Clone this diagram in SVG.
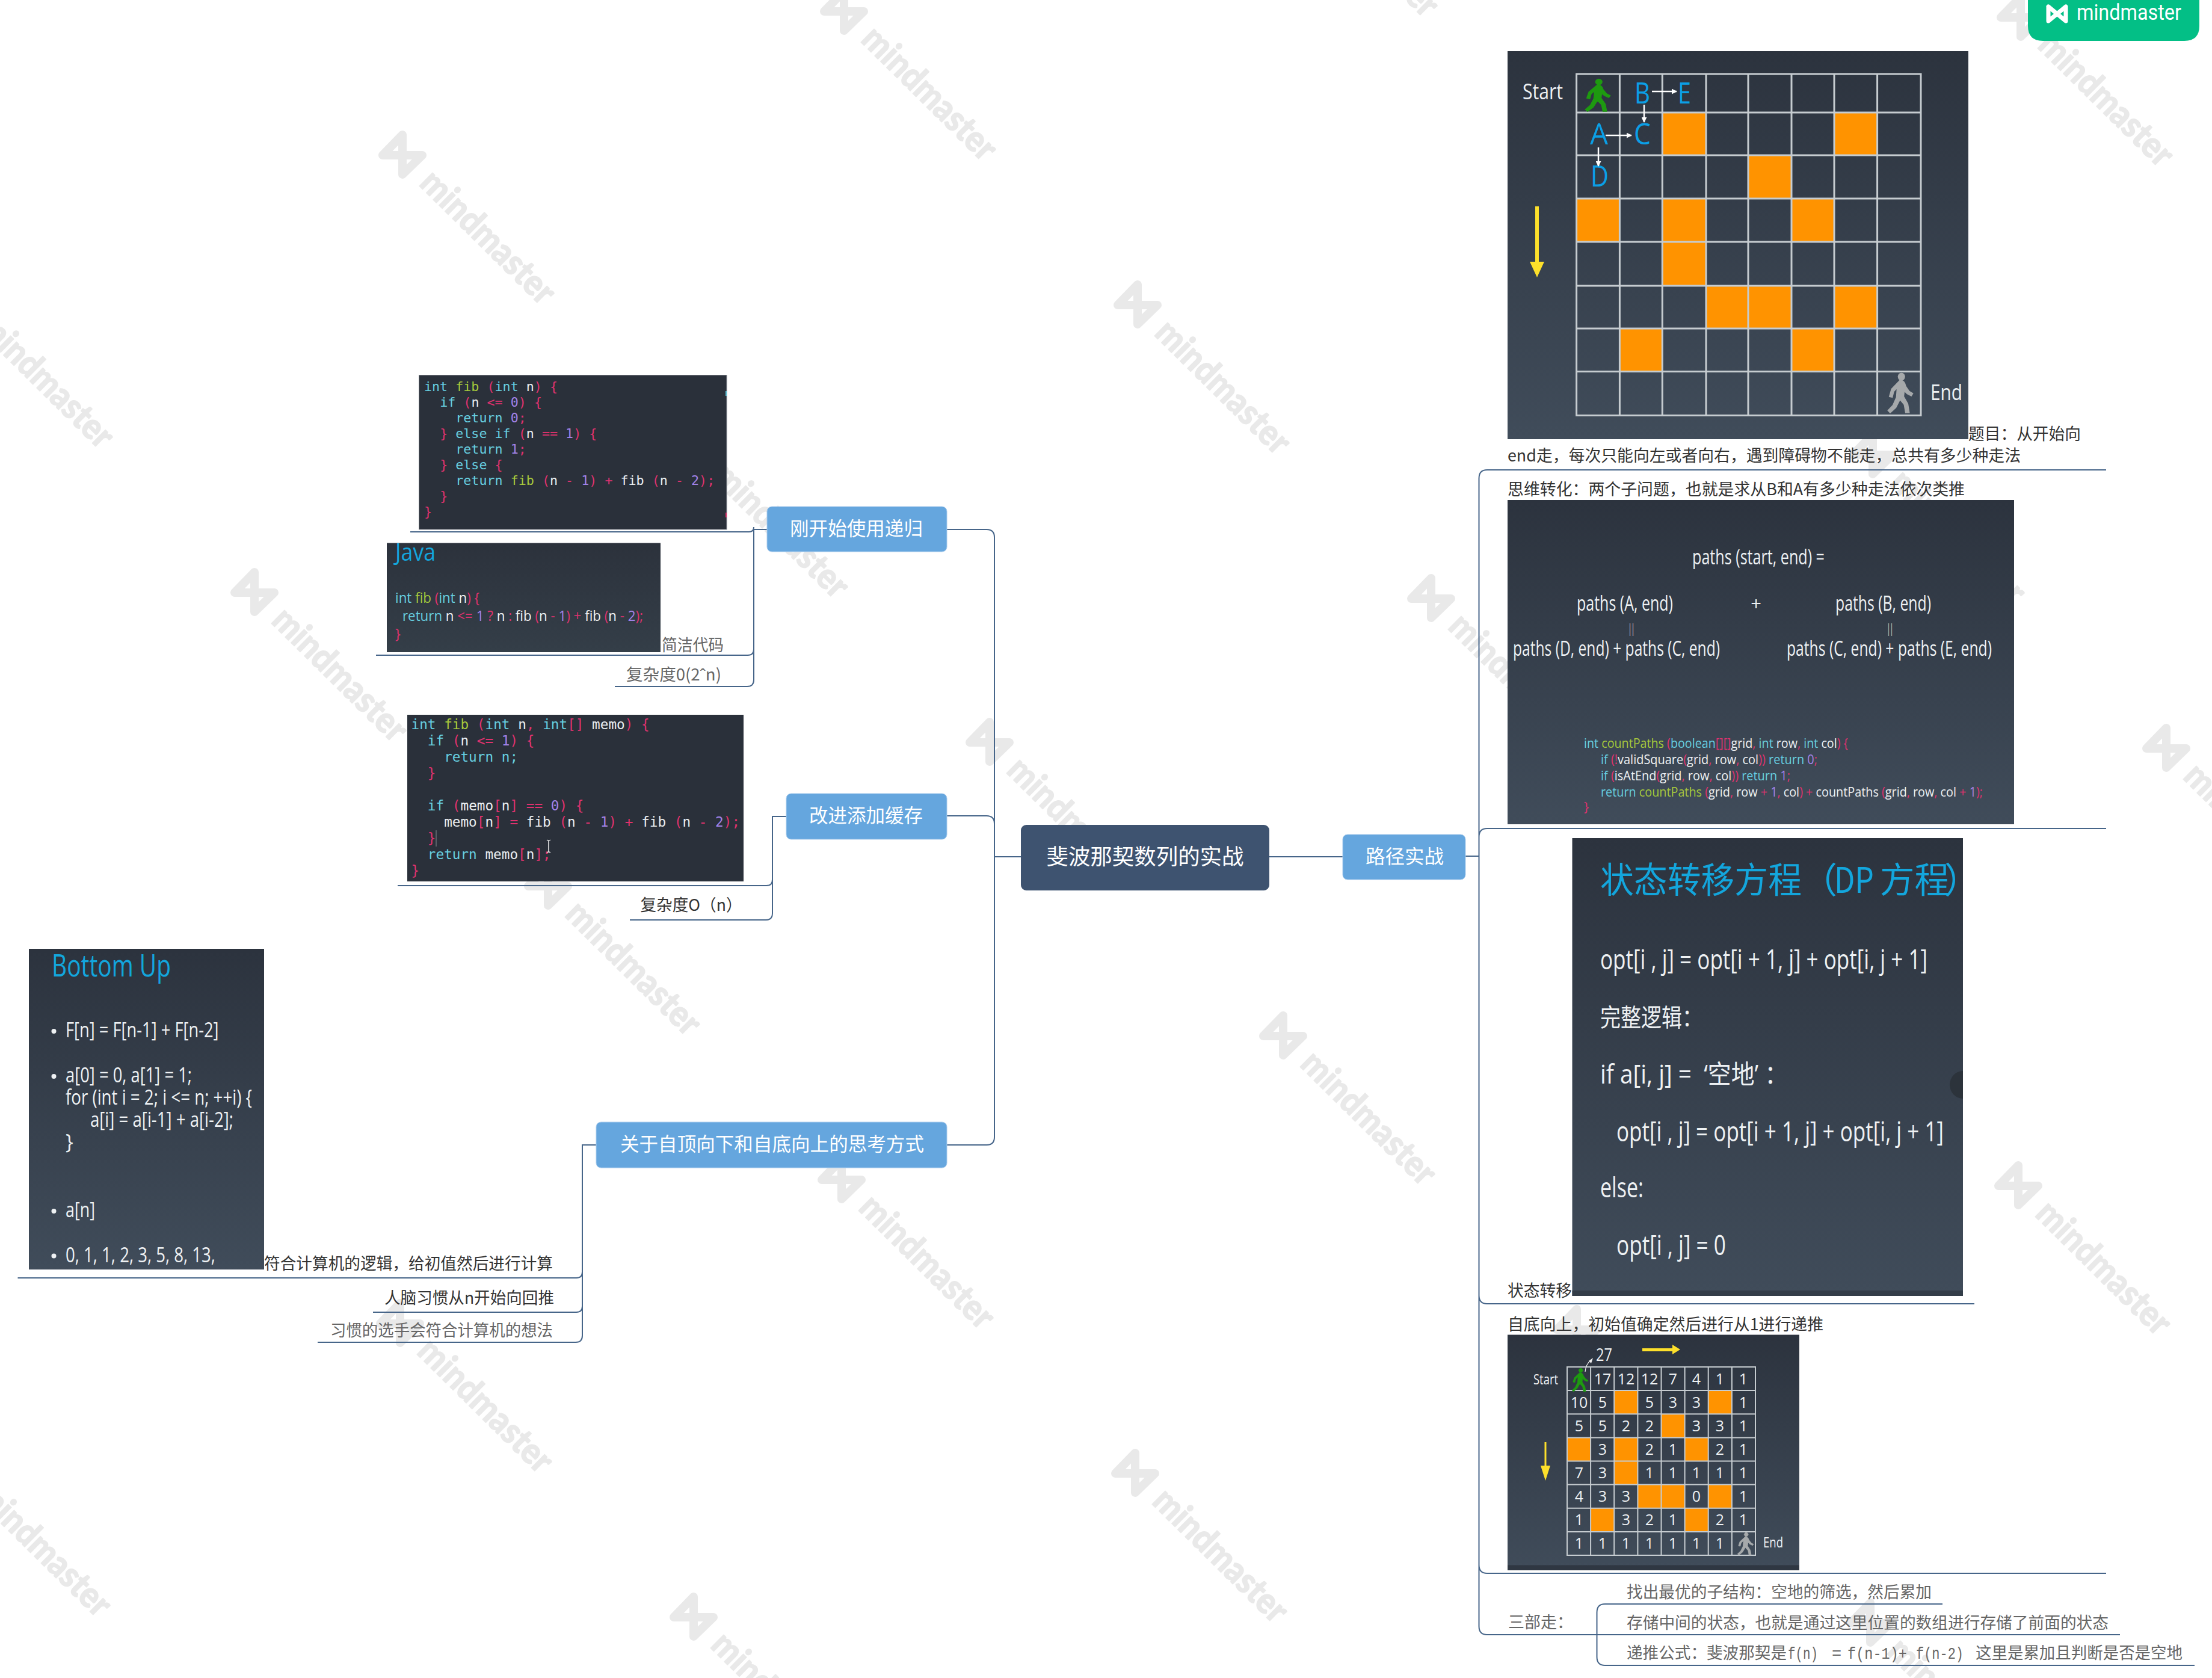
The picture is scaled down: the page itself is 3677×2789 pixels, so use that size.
<svg xmlns="http://www.w3.org/2000/svg" width="3677" height="2789" viewBox="0 0 3677 2789">
<style>
text{white-space:pre}
.c{font-family:"Noto Sans CJK SC","Liberation Sans",sans-serif;font-size:27px;fill:#333}
.g{fill:#666}
.lb{font-family:"Noto Sans CJK SC","Liberation Sans",sans-serif;fill:#fff;font-size:32px}
.o{font-family:"Open Sans","Noto Sans CJK SC",sans-serif;fill:#eef1f3}
.m{font-family:"DejaVu Sans Mono",monospace;fill:#e9edf0}
.k{fill:#67cfe0}.f{fill:#a6c93c}.p{fill:#e0326e}.n{fill:#a283ea}
.b{fill:#13a6dd}
.wt{font-family:Lato,"Open Sans",sans-serif;font-weight:900;font-size:60px;fill:#e9e9e9;stroke:#e9e9e9;stroke-width:1.5;stroke-linejoin:round}
.box{fill:#65a6de;stroke:#a9cbec;stroke-width:1}
.con{fill:none;stroke:#466589;stroke-width:2}
.or{fill:#ff9300}
.gr{fill:none;stroke:#c6ccd0;stroke-width:3}
.gs{fill:none;stroke:#c6ccd0;stroke-width:2}
.ar{fill:none;stroke:#fff;stroke-width:2.5}
.num{font-family:"Open Sans",sans-serif;fill:#eef1f3;font-size:25px;text-anchor:middle}
</style>
<defs>
<linearGradient id="gd" x1="0" y1="0" x2="0" y2="1"><stop offset="0" stop-color="#2c333e"/><stop offset="1" stop-color="#404c5a"/></linearGradient>
<linearGradient id="gj" x1="0" y1="0" x2="0" y2="1"><stop offset="0" stop-color="#2c323c"/><stop offset="1" stop-color="#343e48"/></linearGradient>
<path id="wl" d="M0 -33L-33 1L33 1L0 33Z" fill="none" stroke="#e9e9e9" stroke-width="14" stroke-linejoin="round"/>
<path id="walker" d="M20 10C24 10 27 13 28 18L33 25L38 28L36 31L30 28L26 24L25 32L31 42L33 54L28 54L26 43L20 36L14 47L6 54L3 51L10 44L15 33L16 20L11 25L9 33L5 32L8 22ZM22 0.5a4.5 4.5 0 1 0 .01 0Z"/>
<marker id="wa" viewBox="0 0 10 10" refX="9" refY="5" markerWidth="9" markerHeight="9" markerUnits="userSpaceOnUse" orient="auto"><path d="M0 0L10 5L0 10Z" fill="#fff"/></marker>
</defs>
<rect width="3677" height="2789" fill="#fff"/>
<g id="watermarks">
<g transform="translate(669 257)"><use href="#wl"/><text class="wt" transform="translate(26 50) rotate(44.7)" textLength="288" lengthAdjust="spacingAndGlyphs">mindmaster</text></g>
<g transform="translate(1157 745)"><use href="#wl"/><text class="wt" transform="translate(26 50) rotate(44.7)" textLength="288" lengthAdjust="spacingAndGlyphs">mindmaster</text></g>
<g transform="translate(1645 1233)"><use href="#wl"/><text class="wt" transform="translate(26 50) rotate(44.7)" textLength="288" lengthAdjust="spacingAndGlyphs">mindmaster</text></g>
<g transform="translate(2133 1721)"><use href="#wl"/><text class="wt" transform="translate(26 50) rotate(44.7)" textLength="288" lengthAdjust="spacingAndGlyphs">mindmaster</text></g>
<g transform="translate(2621 2209)"><use href="#wl"/><text class="wt" transform="translate(26 50) rotate(44.7)" textLength="288" lengthAdjust="spacingAndGlyphs">mindmaster</text></g>
<g transform="translate(3109 2697)"><use href="#wl"/><text class="wt" transform="translate(26 50) rotate(44.7)" textLength="288" lengthAdjust="spacingAndGlyphs">mindmaster</text></g>
<g transform="translate(1403 18)"><use href="#wl"/><text class="wt" transform="translate(26 50) rotate(44.7)" textLength="288" lengthAdjust="spacingAndGlyphs">mindmaster</text></g>
<g transform="translate(1891 506)"><use href="#wl"/><text class="wt" transform="translate(26 50) rotate(44.7)" textLength="288" lengthAdjust="spacingAndGlyphs">mindmaster</text></g>
<g transform="translate(2379 994)"><use href="#wl"/><text class="wt" transform="translate(26 50) rotate(44.7)" textLength="288" lengthAdjust="spacingAndGlyphs">mindmaster</text></g>
<g transform="translate(2867 1482)"><use href="#wl"/><text class="wt" transform="translate(26 50) rotate(44.7)" textLength="288" lengthAdjust="spacingAndGlyphs">mindmaster</text></g>
<g transform="translate(3355 1970)"><use href="#wl"/><text class="wt" transform="translate(26 50) rotate(44.7)" textLength="288" lengthAdjust="spacingAndGlyphs">mindmaster</text></g>
<g transform="translate(2137 -221)"><use href="#wl"/><text class="wt" transform="translate(26 50) rotate(44.7)" textLength="288" lengthAdjust="spacingAndGlyphs">mindmaster</text></g>
<g transform="translate(2625 267)"><use href="#wl"/><text class="wt" transform="translate(26 50) rotate(44.7)" textLength="288" lengthAdjust="spacingAndGlyphs">mindmaster</text></g>
<g transform="translate(3113 755)"><use href="#wl"/><text class="wt" transform="translate(26 50) rotate(44.7)" textLength="288" lengthAdjust="spacingAndGlyphs">mindmaster</text></g>
<g transform="translate(3601 1243)"><use href="#wl"/><text class="wt" transform="translate(26 50) rotate(44.7)" textLength="288" lengthAdjust="spacingAndGlyphs">mindmaster</text></g>
<g transform="translate(3359 28)"><use href="#wl"/><text class="wt" transform="translate(26 50) rotate(44.7)" textLength="288" lengthAdjust="spacingAndGlyphs">mindmaster</text></g>
<g transform="translate(-65 496)"><use href="#wl"/><text class="wt" transform="translate(26 50) rotate(44.7)" textLength="288" lengthAdjust="spacingAndGlyphs">mindmaster</text></g>
<g transform="translate(423 984)"><use href="#wl"/><text class="wt" transform="translate(26 50) rotate(44.7)" textLength="288" lengthAdjust="spacingAndGlyphs">mindmaster</text></g>
<g transform="translate(911 1472)"><use href="#wl"/><text class="wt" transform="translate(26 50) rotate(44.7)" textLength="288" lengthAdjust="spacingAndGlyphs">mindmaster</text></g>
<g transform="translate(1399 1960)"><use href="#wl"/><text class="wt" transform="translate(26 50) rotate(44.7)" textLength="288" lengthAdjust="spacingAndGlyphs">mindmaster</text></g>
<g transform="translate(1887 2448)"><use href="#wl"/><text class="wt" transform="translate(26 50) rotate(44.7)" textLength="288" lengthAdjust="spacingAndGlyphs">mindmaster</text></g>
<g transform="translate(177 1711)"><use href="#wl"/><text class="wt" transform="translate(26 50) rotate(44.7)" textLength="288" lengthAdjust="spacingAndGlyphs">mindmaster</text></g>
<g transform="translate(665 2199)"><use href="#wl"/><text class="wt" transform="translate(26 50) rotate(44.7)" textLength="288" lengthAdjust="spacingAndGlyphs">mindmaster</text></g>
<g transform="translate(1153 2687)"><use href="#wl"/><text class="wt" transform="translate(26 50) rotate(44.7)" textLength="288" lengthAdjust="spacingAndGlyphs">mindmaster</text></g>
<g transform="translate(-69 2438)"><use href="#wl"/><text class="wt" transform="translate(26 50) rotate(44.7)" textLength="288" lengthAdjust="spacingAndGlyphs">mindmaster</text></g>
</g>

<g id="connectors">
<path class="con" d="M2436 1423H2458.5M3501 781H2472Q2458.5 781 2458.5 795V2703Q2458.5 2717 2472 2717H3524M3501 1377H2472Q2458.5 1377 2458.5 1391M3282 2167H2472Q2458.5 2167 2458.5 2153M3501 2615H2472Q2458.5 2615 2458.5 2601"/>
<path class="con" d="M3229 2666H2668Q2654.5 2666 2654.5 2680V2754Q2654.5 2768 2668 2768H3648"/>
<path class="con" d="M1574 880H1640Q1653 880 1653 893V1890Q1653 1903 1640 1903H1574M1574 1356H1640Q1653 1356 1653 1369M1653 1424H1697M2110 1424H2232"/>
<path class="con" d="M1275 880H1253V1130Q1253 1141 1242 1141H1022M682 884H1245Q1253 884 1253 876M625 1089H1243Q1253 1089 1253 1079"/>
<path class="con" d="M1307 1357H1284V1518Q1284 1529 1273 1529H1047M661 1472H1274Q1284 1472 1284 1462"/>
<path class="con" d="M991 1903H968V2220Q968 2231 957 2231H528M29.5 2124H958Q968 2124 968 2114M620 2181H958Q968 2181 968 2171"/>
</g>

<g id="node-root"><rect x="1697" y="1371" width="413" height="109" rx="9" fill="#3e5370"/><text class="lb" style="font-size:36px" x="1739.5" y="1437" textLength="328" lengthAdjust="spacingAndGlyphs">斐波那契数列的实战</text></g>
<g id="node-path"><rect class="box" x="2232" y="1387" width="204" height="75" rx="8"/><text class="lb" x="2270" y="1435" textLength="130" lengthAdjust="spacingAndGlyphs">路径实战</text></g>
<g id="node-recursion"><rect class="box" x="1275" y="842" width="299" height="75" rx="8"/><text class="lb" x="1313" y="890" textLength="221" lengthAdjust="spacingAndGlyphs">刚开始使用递归</text></g>
<g id="node-cache"><rect class="box" x="1307" y="1319" width="267" height="76" rx="8"/><text class="lb" x="1345" y="1367" textLength="189" lengthAdjust="spacingAndGlyphs">改进添加缓存</text></g>
<g id="node-thinking"><rect class="box" x="991" y="1865" width="583" height="76" rx="8"/><text class="lb" x="1031" y="1913" textLength="505" lengthAdjust="spacingAndGlyphs">关于自顶向下和自底向上的思考方式</text></g>

<g id="node-fib-code">
<rect x="696.5" y="623.5" width="511.5" height="256.5" fill="#2a303a" stroke="#8a8f96" stroke-width="1"/>
<rect x="1206" y="650" width="2" height="8" fill="#5cc0d6"/><rect x="1206" y="852" width="2" height="8" fill="#d9306a"/>
<text class="m" style="font-size:21.7px" x="705" y="650"><tspan class="k">int</tspan> <tspan class="f">fib</tspan> <tspan class="p">(</tspan><tspan class="k">int</tspan> n<tspan class="p">)</tspan> <tspan class="p">{</tspan></text>
<text class="m" style="font-size:21.7px" x="705" y="676">  <tspan class="k">if</tspan> <tspan class="p">(</tspan>n <tspan class="p">&lt;=</tspan> <tspan class="n">0</tspan><tspan class="p">)</tspan> <tspan class="p">{</tspan></text>
<text class="m" style="font-size:21.7px" x="705" y="702">    <tspan class="k">return</tspan> <tspan class="n">0</tspan><tspan class="p">;</tspan></text>
<text class="m" style="font-size:21.7px" x="705" y="728">  <tspan class="p">}</tspan> <tspan class="k">else if</tspan> <tspan class="p">(</tspan>n <tspan class="p">==</tspan> <tspan class="n">1</tspan><tspan class="p">)</tspan> <tspan class="p">{</tspan></text>
<text class="m" style="font-size:21.7px" x="705" y="754">    <tspan class="k">return</tspan> <tspan class="n">1</tspan><tspan class="p">;</tspan></text>
<text class="m" style="font-size:21.7px" x="705" y="780">  <tspan class="p">}</tspan> <tspan class="k">else</tspan> <tspan class="p">{</tspan></text>
<text class="m" style="font-size:21.7px" x="705" y="806">    <tspan class="k">return</tspan> <tspan class="f">fib</tspan> <tspan class="p">(</tspan>n <tspan class="p">-</tspan> <tspan class="n">1</tspan><tspan class="p">)</tspan> <tspan class="p">+</tspan> fib <tspan class="p">(</tspan>n <tspan class="p">-</tspan> <tspan class="n">2</tspan><tspan class="p">);</tspan></text>
<text class="m" style="font-size:21.7px" x="705" y="832">  <tspan class="p">}</tspan></text>
<text class="m" style="font-size:21.7px" x="705" y="858"><tspan class="p">}</tspan></text>
</g>

<g id="node-java">
<rect x="643" y="902.5" width="455" height="181.5" fill="url(#gj)"/>
<text class="o b" style="font-size:40px" x="657" y="932" textLength="67" lengthAdjust="spacingAndGlyphs">Java</text>
<text class="o" style="font-size:24px" x="657" y="1002" textLength="140" lengthAdjust="spacingAndGlyphs"><tspan class="k">int</tspan> <tspan class="f">fib</tspan> <tspan class="p">(</tspan><tspan class="k">int</tspan> n<tspan class="p">)</tspan> <tspan class="p">{</tspan></text>
<text class="o" style="font-size:24px" x="669" y="1032" textLength="400" lengthAdjust="spacingAndGlyphs"><tspan class="k">return</tspan> n <tspan class="p">&lt;=</tspan> <tspan class="n">1</tspan> <tspan class="p">?</tspan> n <tspan class="p">:</tspan> fib <tspan class="p">(</tspan>n <tspan class="p">-</tspan> <tspan class="n">1</tspan><tspan class="p">)</tspan> <tspan class="p">+</tspan> fib <tspan class="p">(</tspan>n <tspan class="p">-</tspan> <tspan class="n">2</tspan><tspan class="p">);</tspan></text>
<text class="o p" style="font-size:24px" x="657" y="1062">}</text>
</g>
<g id="node-simple"><text class="c g" x="1100" y="1082" textLength="103" lengthAdjust="spacingAndGlyphs">简洁代码</text></g>
<g id="node-c1"><text class="c g" x="1041" y="1131" textLength="158" lengthAdjust="spacingAndGlyphs">复杂度0(2ˆn)</text></g>

<g id="node-memo">
<rect x="677" y="1188" width="559" height="277" fill="#2a303a"/>
<text class="m" style="font-size:22.7px" x="683.5" y="1212"><tspan class="k">int</tspan> <tspan class="f">fib</tspan> <tspan class="p">(</tspan><tspan class="k">int</tspan> n<tspan class="p">,</tspan> <tspan class="k">int</tspan><tspan class="p">[]</tspan> memo<tspan class="p">)</tspan> <tspan class="p">{</tspan></text>
<text class="m" style="font-size:22.7px" x="683.5" y="1239">  <tspan class="k">if</tspan> <tspan class="p">(</tspan>n <tspan class="p">&lt;=</tspan> <tspan class="n">1</tspan><tspan class="p">)</tspan> <tspan class="p">{</tspan></text>
<text class="m" style="font-size:22.7px" x="683.5" y="1266">    <tspan class="k">return</tspan> <tspan class="k">n;</tspan></text>
<text class="m" style="font-size:22.7px" x="683.5" y="1293">  <tspan class="p">}</tspan></text>
<text class="m" style="font-size:22.7px" x="683.5" y="1347">  <tspan class="k">if</tspan> <tspan class="p">(</tspan>memo<tspan class="p">[</tspan>n<tspan class="p">]</tspan> <tspan class="p">==</tspan> <tspan class="n">0</tspan><tspan class="p">)</tspan> <tspan class="p">{</tspan></text>
<text class="m" style="font-size:22.7px" x="683.5" y="1374">    memo<tspan class="p">[</tspan>n<tspan class="p">]</tspan> <tspan class="p">=</tspan> fib <tspan class="p">(</tspan>n <tspan class="p">-</tspan> <tspan class="n">1</tspan><tspan class="p">)</tspan> <tspan class="p">+</tspan> fib <tspan class="p">(</tspan>n <tspan class="p">-</tspan> <tspan class="n">2</tspan><tspan class="p">);</tspan></text>
<text class="m" style="font-size:22.7px" x="683.5" y="1401">  <tspan class="p">}</tspan></text>
<text class="m" style="font-size:22.7px" x="683.5" y="1428">  <tspan class="k">return</tspan> memo<tspan class="p">[</tspan>n<tspan class="p">];</tspan></text>
<text class="m" style="font-size:22.7px" x="683.5" y="1455"><tspan class="p">}</tspan></text>
<path d="M725 1380V1407" stroke="#8a8f96" stroke-width="1" fill="none"/>
<path d="M909 1396Q912 1398 915 1396M912 1397V1416M909 1417Q912 1415 915 1417" stroke="#f2f2f2" stroke-width="1.5" fill="none"/>
</g>
<g id="node-c2"><text class="c" x="1064.5" y="1514" textLength="169" lengthAdjust="spacingAndGlyphs">复杂度O（n）</text></g>

<g id="node-bottomup">
<rect x="48" y="1577" width="391" height="533" fill="url(#gd)"/>
<text class="o b" style="font-size:52px" x="86" y="1622.5" textLength="198" lengthAdjust="spacingAndGlyphs">Bottom Up</text>
<circle cx="89.5" cy="1714" r="4" fill="#eef1f3"/><circle cx="89.5" cy="1789" r="4" fill="#eef1f3"/><circle cx="89.5" cy="2013" r="4" fill="#eef1f3"/><circle cx="89.5" cy="2087.5" r="4" fill="#eef1f3"/>
<text class="o" style="font-size:34px" x="109" y="1724" textLength="254.5" lengthAdjust="spacingAndGlyphs">F[n] = F[n-1] + F[n-2]</text>
<text class="o" style="font-size:34px" x="109" y="1799" textLength="210" lengthAdjust="spacingAndGlyphs">a[0] = 0, a[1] = 1;</text>
<text class="o" style="font-size:34px" x="109" y="1836" textLength="310" lengthAdjust="spacingAndGlyphs">for (int i = 2; i &lt;= n; ++i) {</text>
<text class="o" style="font-size:34px" x="150" y="1873" textLength="238" lengthAdjust="spacingAndGlyphs">a[i] = a[i-1] + a[i-2];</text>
<text class="o" style="font-size:34px" x="109" y="1910">}</text>
<text class="o" style="font-size:34px" x="109" y="2023" textLength="49" lengthAdjust="spacingAndGlyphs">a[n]</text>
<text class="o" style="font-size:34px" x="109" y="2098" textLength="249" lengthAdjust="spacingAndGlyphs">0, 1, 1, 2, 3, 5, 8, 13,</text>
</g>
<g id="node-logic"><text class="c" x="439" y="2110" textLength="480" lengthAdjust="spacingAndGlyphs">符合计算机的逻辑，给初值然后进行计算</text></g>
<g id="node-brain"><text class="c" x="639" y="2167" textLength="282" lengthAdjust="spacingAndGlyphs">人脑习惯从n开始向回推</text></g>
<g id="node-habit"><text class="c g" x="549" y="2221" textLength="370" lengthAdjust="spacingAndGlyphs">习惯的选手会符合计算机的想法</text></g>

<g id="node-grid">
<rect x="2506" y="85" width="766" height="645" fill="url(#gd)"/>
<rect class="or" x="2764" y="188" width="71" height="69"/><rect class="or" x="3050" y="188" width="70" height="69"/>
<rect class="or" x="2907" y="259" width="71" height="70"/>
<rect class="or" x="2622" y="331" width="70" height="70"/><rect class="or" x="2764" y="331" width="71" height="70"/><rect class="or" x="2979" y="331" width="70" height="70"/>
<rect class="or" x="2764" y="403" width="71" height="71"/>
<rect class="or" x="2836" y="476" width="70" height="70"/><rect class="or" x="2907" y="476" width="71" height="70"/><rect class="or" x="3050" y="476" width="70" height="70"/>
<rect class="or" x="2693" y="547" width="70" height="70"/><rect class="or" x="2979" y="547" width="70" height="70"/>
<path class="gr" d="M2620.6 123H3193V690.5H2620.6ZM2692.4 123V690.5M2763.3 123V690.5M2836 123V690.5M2906 123V690.5M2978 123V690.5M3049 123V690.5M3120.6 123V690.5M2620.6 187H3193M2620.6 258H3193M2620.6 330H3193M2620.6 402H3193M2620.6 475H3193M2620.6 546H3193M2620.6 617.5H3193"/>
<use href="#walker" transform="translate(2632 131) scale(1.17 1)" fill="#1e9a10" stroke="#1e9a10" stroke-width="1.5"/>
<use href="#walker" transform="translate(3135 620) scale(1.17 1.22)" fill="#a6a9ab" stroke="#a6a9ab" stroke-width="1.5"/>
<text class="o" style="font-size:37px" x="2531" y="165" textLength="67" lengthAdjust="spacingAndGlyphs">Start</text>
<text class="o" style="font-size:37px" x="3209" y="665" textLength="53" lengthAdjust="spacingAndGlyphs">End</text>
<text class="o" style="font-size:50px;fill:#0b9fe6" x="2717" y="171.5" textLength="26" lengthAdjust="spacingAndGlyphs">B</text>
<text class="o" style="font-size:50px;fill:#0b9fe6" x="2789" y="171.5" textLength="22" lengthAdjust="spacingAndGlyphs">E</text>
<text class="o" style="font-size:50px;fill:#0b9fe6" x="2643" y="240" textLength="30" lengthAdjust="spacingAndGlyphs">A</text>
<text class="o" style="font-size:50px;fill:#0b9fe6" x="2716" y="240" textLength="28" lengthAdjust="spacingAndGlyphs">C</text>
<text class="o" style="font-size:50px;fill:#0b9fe6" x="2644" y="310" textLength="30" lengthAdjust="spacingAndGlyphs">D</text>
<path class="ar" marker-end="url(#wa)" d="M2746 152H2787"/>
<path class="ar" marker-end="url(#wa)" d="M2733 174V203"/>
<path class="ar" marker-end="url(#wa)" d="M2669 225H2712"/>
<path class="ar" marker-end="url(#wa)" d="M2657 245V276"/>
<path d="M2552 343H2558V435H2567L2555 461L2543 435H2552Z" fill="#fde02b"/>
</g>
<g id="node-title">
<text class="c" x="3272" y="731" textLength="187" lengthAdjust="spacingAndGlyphs">题目：从开始向</text>
<text class="c" x="2506" y="767" textLength="853" lengthAdjust="spacingAndGlyphs">end走，每次只能向左或者向右，遇到障碍物不能走，总共有多少种走法</text>
</g>
<g id="node-think"><text class="c" x="2506" y="823" textLength="760" lengthAdjust="spacingAndGlyphs">思维转化：两个子问题，也就是求从B和A有多少种走法依次类推</text></g>

<g id="node-paths">
<rect x="2506" y="831" width="842" height="539" fill="url(#gd)"/>
<text class="o" style="font-size:34px" x="2813" y="938" textLength="220" lengthAdjust="spacingAndGlyphs">paths (start, end) =</text>
<text class="o" style="font-size:34px" x="2621" y="1015" textLength="160" lengthAdjust="spacingAndGlyphs">paths (A, end)</text>
<text class="o" style="font-size:31px" x="2919" y="1015" text-anchor="middle">+</text>
<text class="o" style="font-size:34px" x="3051" y="1015" textLength="159" lengthAdjust="spacingAndGlyphs">paths (B, end)</text>
<text class="o" style="font-size:22px" x="2707" y="1052" textLength="10" lengthAdjust="spacingAndGlyphs">||</text>
<text class="o" style="font-size:22px" x="3137" y="1052" textLength="10" lengthAdjust="spacingAndGlyphs">||</text>
<text class="o" style="font-size:34px" x="2515" y="1090" textLength="344" lengthAdjust="spacingAndGlyphs">paths (D, end) + paths (C, end)</text>
<text class="o" style="font-size:34px" x="2970" y="1090" textLength="341" lengthAdjust="spacingAndGlyphs">paths (C, end) + paths (E, end)</text>
<text class="o" style="font-size:22px" x="2633" y="1243" textLength="439" lengthAdjust="spacingAndGlyphs"><tspan class="k">int</tspan> <tspan class="f">countPaths</tspan> <tspan class="p">(</tspan><tspan class="k">boolean</tspan><tspan class="p">[][]</tspan>grid<tspan class="p">,</tspan> <tspan class="k">int</tspan> row<tspan class="p">,</tspan> <tspan class="k">int</tspan> col<tspan class="p">)</tspan> <tspan class="p">{</tspan></text>
<text class="o" style="font-size:22px" x="2661" y="1270" textLength="360" lengthAdjust="spacingAndGlyphs"><tspan class="k">if</tspan> <tspan class="p">(!</tspan>validSquare<tspan class="p">(</tspan>grid<tspan class="p">,</tspan> row<tspan class="p">,</tspan> col<tspan class="p">))</tspan> <tspan class="k">return</tspan> <tspan class="n">0</tspan><tspan class="p">;</tspan></text>
<text class="o" style="font-size:22px" x="2661" y="1297" textLength="315" lengthAdjust="spacingAndGlyphs"><tspan class="k">if</tspan> <tspan class="p">(</tspan>isAtEnd<tspan class="p">(</tspan>grid<tspan class="p">,</tspan> row<tspan class="p">,</tspan> col<tspan class="p">))</tspan> <tspan class="k">return</tspan> <tspan class="n">1</tspan><tspan class="p">;</tspan></text>
<text class="o" style="font-size:22px" x="2661" y="1324" textLength="635" lengthAdjust="spacingAndGlyphs"><tspan class="k">return</tspan> <tspan class="f">countPaths</tspan> <tspan class="p">(</tspan>grid<tspan class="p">,</tspan> row <tspan class="p">+</tspan> <tspan class="n">1</tspan><tspan class="p">,</tspan> col<tspan class="p">)</tspan> <tspan class="p">+</tspan> countPaths <tspan class="p">(</tspan>grid<tspan class="p">,</tspan> row<tspan class="p">,</tspan> col <tspan class="p">+</tspan> <tspan class="n">1</tspan><tspan class="p">);</tspan></text>
<text class="o p" style="font-size:22px" x="2633" y="1349">}</text>
</g>

<g id="node-dp">
<rect x="2613.5" y="1393" width="649.5" height="761" fill="url(#gd)"/>
<rect x="2613.5" y="2145" width="649.5" height="9" fill="#333d48"/>
<path d="M3263 1780A22 23 0 0 0 3263 1826Z" fill="#2c333b"/>
<text class="c b" style="font-size:59px" y="1484"><tspan x="2660" textLength="335" lengthAdjust="spacingAndGlyphs">状态转移方程</tspan><tspan x="2995">（</tspan><tspan x="3049" textLength="66" lengthAdjust="spacingAndGlyphs">DP</tspan><tspan x="3125" textLength="115" lengthAdjust="spacingAndGlyphs">方程</tspan><tspan x="3232">）</tspan></text>
<text class="o" style="font-size:45px" x="2660" y="1611" textLength="544" lengthAdjust="spacingAndGlyphs">opt[i , j] = opt[i + 1, j] + opt[i, j + 1]</text>
<text class="o" style="font-size:41px" x="2660" y="1706" textLength="170" lengthAdjust="spacingAndGlyphs">完整逻辑：</text>
<text class="o" style="font-size:43px" x="2660" y="1801" textLength="312" lengthAdjust="spacingAndGlyphs">if a[i, j] =  ‘空地’ ：</text>
<text class="o" style="font-size:45px" x="2687" y="1897" textLength="544" lengthAdjust="spacingAndGlyphs">opt[i , j] = opt[i + 1, j] + opt[i, j + 1]</text>
<text class="o" style="font-size:45px" x="2660" y="1990" textLength="72" lengthAdjust="spacingAndGlyphs">else:</text>
<text class="o" style="font-size:45px" x="2687" y="2086" textLength="182" lengthAdjust="spacingAndGlyphs">opt[i , j] = 0</text>
</g>
<g id="node-state"><text class="c" x="2506" y="2155" textLength="107" lengthAdjust="spacingAndGlyphs">状态转移</text></g>
<g id="node-up"><text class="c" x="2506" y="2211" textLength="525" lengthAdjust="spacingAndGlyphs">自底向上，初始值确定然后进行从1进行递推</text></g>

<g id="node-table">
<rect x="2506" y="2218.5" width="485" height="391.5" fill="url(#gd)"/>
<rect x="2506" y="2601.5" width="485" height="8.5" fill="#2f3742"/>
<rect class="or" x="2683.2" y="2311" width="39" height="39"/><rect class="or" x="2839.7" y="2311" width="39" height="39"/>
<rect class="or" x="2761.7" y="2350.2" width="39" height="39"/>
<rect class="or" x="2605" y="2389.3" width="39" height="39"/><rect class="or" x="2683.2" y="2389.3" width="39" height="39"/><rect class="or" x="2800.5" y="2389.3" width="39" height="39"/>
<rect class="or" x="2683.2" y="2428.4" width="39" height="39"/>
<rect class="or" x="2722.3" y="2467.5" width="39" height="39"/><rect class="or" x="2761.4" y="2467.5" width="39" height="39"/><rect class="or" x="2839.6" y="2467.5" width="39" height="39"/>
<rect class="or" x="2644.1" y="2506.6" width="39" height="39"/><rect class="or" x="2800.5" y="2506.6" width="39" height="39"/>
<path class="gs" d="M2605 2272H2918V2585H2605ZM2644.1 2272V2585M2683.2 2272V2585M2722.4 2272V2585M2761.5 2272V2585M2800.6 2272V2585M2839.7 2272V2585M2878.9 2272V2585M2605 2311.1H2918M2605 2350.2H2918M2605 2389.4H2918M2605 2428.5H2918M2605 2467.6H2918M2605 2506.7H2918M2605 2545.9H2918"/>
<use href="#walker" transform="translate(2611 2274) scale(.76 .72)" fill="#1e9a10" stroke="#1e9a10"/>
<use href="#walker" transform="translate(2886 2547) scale(.76 .7)" fill="#a6a9ab" stroke="#a6a9ab"/>
<text class="o" style="font-size:23px" x="2549" y="2301" textLength="41" lengthAdjust="spacingAndGlyphs">Start</text>
<text class="o" style="font-size:23px" x="2931" y="2572" textLength="33" lengthAdjust="spacingAndGlyphs">End</text>
<text class="o" style="font-size:30px" x="2653" y="2262" textLength="27" lengthAdjust="spacingAndGlyphs">27</text>
<path d="M2635 2280Q2636 2268 2644 2261" fill="none" stroke="#eee" stroke-width="1.2"/><path d="M2648 2257L2645 2266L2641 2262Z" fill="#eee"/>
<path d="M2730 2241H2780V2235L2793 2243L2780 2251V2246H2730Z" fill="#fde02b"/>
<path d="M2567.5 2397H2570.5V2436H2577L2569 2461L2561 2436H2567.5Z" fill="#fde02b"/>
<g>
<text class="num" x="2664" y="2301">17</text><text class="num" x="2703" y="2301">12</text><text class="num" x="2742" y="2301">12</text><text class="num" x="2781" y="2301">7</text><text class="num" x="2820" y="2301">4</text><text class="num" x="2859" y="2301">1</text><text class="num" x="2898" y="2301">1</text>
<text class="num" x="2625" y="2340">10</text><text class="num" x="2664" y="2340">5</text><text class="num" x="2742" y="2340">5</text><text class="num" x="2781" y="2340">3</text><text class="num" x="2820" y="2340">3</text><text class="num" x="2898" y="2340">1</text>
<text class="num" x="2625" y="2379">5</text><text class="num" x="2664" y="2379">5</text><text class="num" x="2703" y="2379">2</text><text class="num" x="2742" y="2379">2</text><text class="num" x="2820" y="2379">3</text><text class="num" x="2859" y="2379">3</text><text class="num" x="2898" y="2379">1</text>
<text class="num" x="2664" y="2418">3</text><text class="num" x="2742" y="2418">2</text><text class="num" x="2781" y="2418">1</text><text class="num" x="2859" y="2418">2</text><text class="num" x="2898" y="2418">1</text>
<text class="num" x="2625" y="2457">7</text><text class="num" x="2664" y="2457">3</text><text class="num" x="2742" y="2457">1</text><text class="num" x="2781" y="2457">1</text><text class="num" x="2820" y="2457">1</text><text class="num" x="2859" y="2457">1</text><text class="num" x="2898" y="2457">1</text>
<text class="num" x="2625" y="2496">4</text><text class="num" x="2664" y="2496">3</text><text class="num" x="2703" y="2496">3</text><text class="num" x="2820" y="2496">0</text><text class="num" x="2898" y="2496">1</text>
<text class="num" x="2625" y="2535">1</text><text class="num" x="2703" y="2535">3</text><text class="num" x="2742" y="2535">2</text><text class="num" x="2781" y="2535">1</text><text class="num" x="2859" y="2535">2</text><text class="num" x="2898" y="2535">1</text>
<text class="num" x="2625" y="2574">1</text><text class="num" x="2664" y="2574">1</text><text class="num" x="2703" y="2574">1</text><text class="num" x="2742" y="2574">1</text><text class="num" x="2781" y="2574">1</text><text class="num" x="2820" y="2574">1</text><text class="num" x="2859" y="2574">1</text>
</g>
</g>

<g id="node-steps"><text class="c g" x="2507" y="2706" textLength="108" lengthAdjust="spacingAndGlyphs">三部走：</text></g>
<g id="node-s1"><text class="c g" x="2704" y="2656" textLength="507" lengthAdjust="spacingAndGlyphs">找出最优的子结构：空地的筛选，然后累加</text></g>
<g id="node-s2"><text class="c g" x="2704" y="2707" textLength="801" lengthAdjust="spacingAndGlyphs">存储中间的状态，也就是通过这里位置的数组进行存储了前面的状态</text></g>
<g id="node-s3"><text class="c g" y="2757"><tspan x="2704" textLength="266" lengthAdjust="spacingAndGlyphs">递推公式：斐波那契是</tspan><tspan x="2972" style="font-family:'Liberation Mono',monospace" textLength="50" lengthAdjust="spacingAndGlyphs">f(n)</tspan><tspan x="3045" style="font-family:'Liberation Mono',monospace">=</tspan><tspan x="3071" style="font-family:'Liberation Mono',monospace" textLength="99" lengthAdjust="spacingAndGlyphs">f(n-1)+</tspan><tspan x="3185" style="font-family:'Liberation Mono',monospace" textLength="79" lengthAdjust="spacingAndGlyphs">f(n-2)</tspan><tspan x="3284" textLength="344" lengthAdjust="spacingAndGlyphs">这里是累加且判断是否是空地</tspan></text></g>

<g id="badge">
<path d="M3371 0V43Q3371 68 3396 68H3631Q3656 68 3656 43V0Z" fill="#03bf86"/>
<path d="M3405 11V35L3434 11V35L3405 11" fill="none" stroke="#fff" stroke-width="7" stroke-linejoin="round" stroke-linecap="round"/>
<text x="3452" y="33" font-family="Roboto,sans-serif" font-weight="400" font-size="36" fill="#fff" textLength="174" lengthAdjust="spacingAndGlyphs">mindmaster</text>
</g>
</svg>
